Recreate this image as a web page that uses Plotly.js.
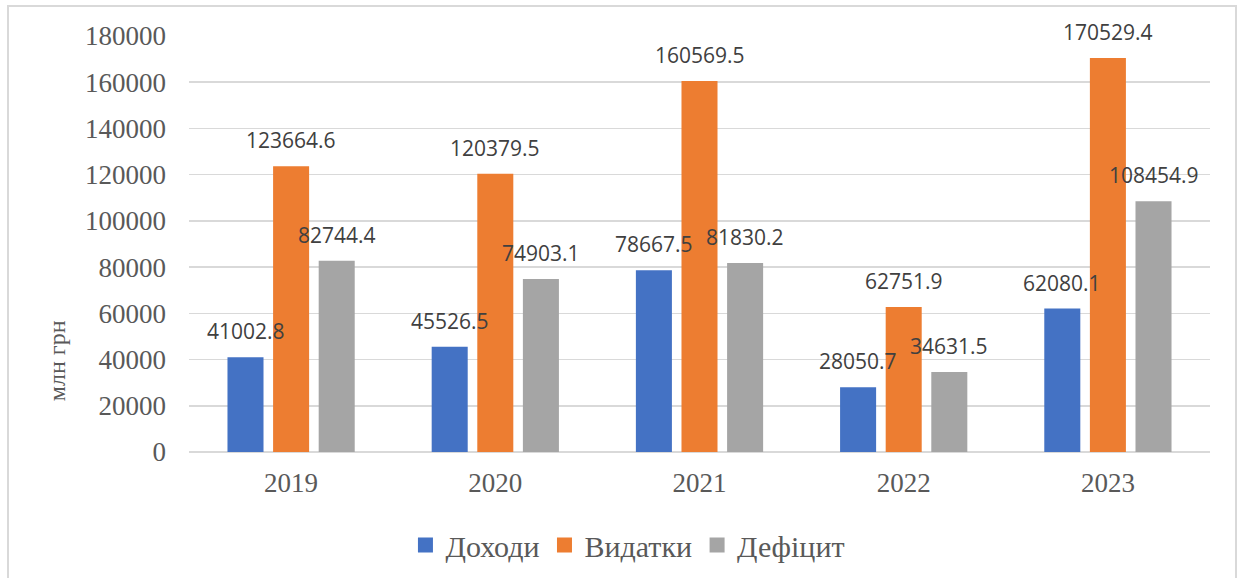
<!DOCTYPE html>
<html>
<head>
<meta charset="utf-8">
<script src="https://cdn.plot.ly/plotly-3.0.1.min.js"></script>
<style>
  html, body { margin: 0; padding: 0; background: #ffffff; }
  #wrap { position: relative; width: 1241px; height: 578px; }
  #chart { position: absolute; left: 0; top: 0; width: 1241px; height: 578px; }
  #frame { position: absolute; left: 7px; top: 5px; width: 1230px; height: 590px;
           border: 2px solid #d9d9d9; pointer-events: none; box-sizing: border-box; }
</style>
</head>
<body>
<div id="wrap">
  <div id="chart"></div>
  <div id="frame"></div>
</div>
<script>
const years = ["2019", "2020", "2021", "2022", "2023"];
const seriesNames = ["Доходи", "Видатки", "Дефіцит"];
const income = [41002.8, 45526.5, 78667.5, 28050.7, 62080.1];
const expenses = [123664.6, 120379.5, 160569.5, 62751.9, 170529.4];
const deficit = [82744.4, 74903.1, 81830.2, 34631.5, 108454.9];
const colors = ["#4472C4", "#ED7D31", "#A5A5A5"];
const yTitle = "млн грн";

const allSeries = [income, expenses, deficit];
const bargap = 0.33;
const bargroupgap = 0.21;

const traces = allSeries.map((vals, k) => ({
  type: "bar",
  name: seriesNames[k],
  x: years,
  y: vals,
  marker: { color: colors[k], line: { width: 0 } },
  hoverinfo: "none"
}));

// data labels above each bar
const slot = (1 - bargap) / allSeries.length;
const annotations = [];
allSeries.forEach((vals, k) => {
  vals.forEach((v, i) => {
    annotations.push({
      x: i + (k - (allSeries.length - 1) / 2) * slot,
      y: v,
      xref: "x", yref: "y",
      text: v.toFixed(1),
      showarrow: false,
      xanchor: "center", yanchor: "bottom",
      yshift: 10,
      font: { family: "Open Sans, Liberation Sans, sans-serif", size: 21, color: "#404040" }
    });
  });
});
// y axis title (placed as in the reference, below the axis middle)
annotations.push({
  xref: "paper", yref: "paper",
  x: -0.129, y: 0.219,
  text: yTitle, textangle: -90,
  showarrow: false, xanchor: "center", yanchor: "middle",
  font: { family: "Liberation Serif, serif", size: 24, color: "#595959" }
});

const layout = {
  width: 1241, height: 578,
  margin: { l: 189, r: 31, t: 36, b: 126 },
  paper_bgcolor: "#ffffff", plot_bgcolor: "#ffffff",
  barmode: "group",
  bargap: bargap, bargroupgap: bargroupgap,
  showlegend: true,
  legend: {
    orientation: "h",
    xref: "container", yref: "container",
    x: 0.506, y: 0.057, xanchor: "center", yanchor: "middle",
    font: { family: "Liberation Serif, serif", size: 30, color: "#595959" },
    itemclick: false
  },
  xaxis: {
    type: "category",
    showgrid: false, showline: false, zeroline: false,
    ticks: "", ticklabelstandoff: 12,
    tickfont: { family: "Liberation Serif, serif", size: 27, color: "#595959" }
  },
  yaxis: {
    range: [0, 180000], dtick: 20000, tick0: 0,
    showgrid: true, gridcolor: "#d9d9d9", gridwidth: 1.5,
    zeroline: true, zerolinecolor: "#d9d9d9", zerolinewidth: 1.5,
    showline: false, ticks: "", ticklabelstandoff: 22,
    tickformat: "d",
    tickfont: { family: "Liberation Serif, serif", size: 27, color: "#595959" }
  },
  annotations: annotations
};

Plotly.newPlot("chart", traces, layout, { displayModeBar: false, staticPlot: true }).then(() => {
  // enlarge legend swatches to match the reference's square markers
  document.querySelectorAll("#chart .legendpoints path").forEach(p => {
    const t = p.getAttribute("transform") || "";
    p.setAttribute("transform", t + " scale(1.25)");
  });
});
</script>
</body>
</html>
